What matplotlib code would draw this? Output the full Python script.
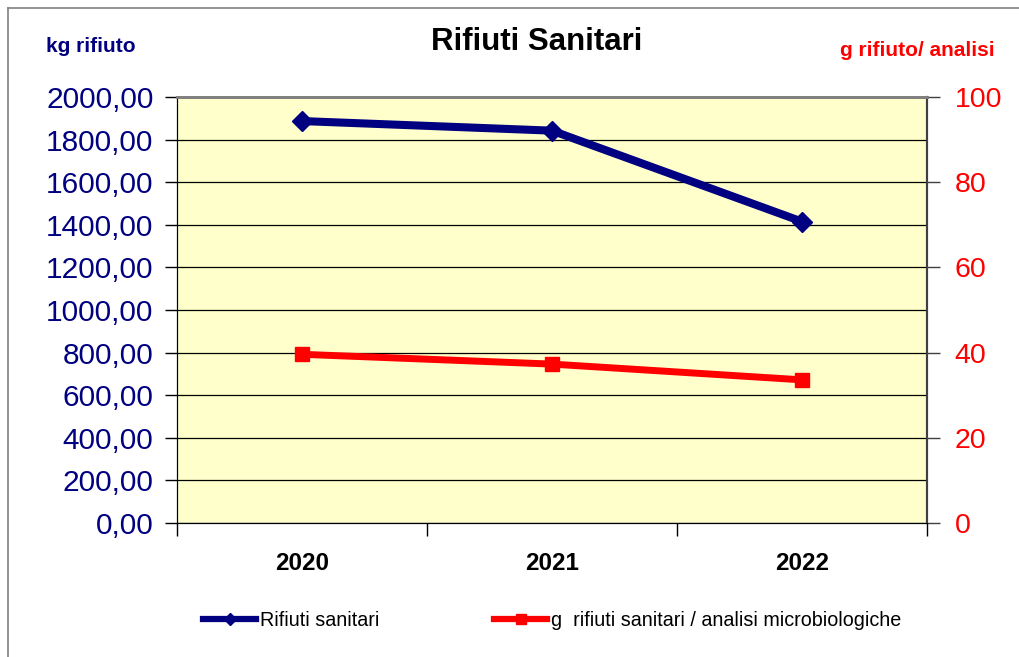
import matplotlib.pyplot as plt
from matplotlib.lines import Line2D

plt.rcParams['font.family'] = ['Liberation Sans', 'DejaVu Sans']

years = ['2020', '2021', '2022']
rifiuti_kg = [1887, 1842, 1415]
g_per_analisi = [39.6, 37.3, 33.6]
left_ticks = [0, 200, 400, 600, 800, 1000, 1200, 1400, 1600, 1800, 2000]
left_labels = ['%d,00' % v for v in left_ticks]
right_ticks = [0, 20, 40, 60, 80, 100]

navy = '#000080'
red = '#FF0000'

W, H = 1020, 657
fig = plt.figure(figsize=(W / 100, H / 100), dpi=100)
ax = fig.add_axes([177 / W, 1 - 523 / H, 750 / W, 426 / H])
ax.set_facecolor('#FFFFCC')

x = range(len(years))
ax.plot(x, rifiuti_kg, color=navy, lw=5.8, marker='D', ms=10.5, zorder=3)
ax.set_xlim(-0.5, 2.5)
ax.set_ylim(0, 2000)
ax.set_yticks(left_ticks)
ax.set_yticklabels(left_labels)
ax.tick_params(axis='y', colors=navy, labelsize=21.5, length=9, width=1,
               direction='out', pad=8)
ax.tick_params(axis='y', color='black')
ax.yaxis.grid(True, color='black', lw=0.9)
ax.set_axisbelow(True)

# category labels between boundary ticks
ax.set_xticks([-0.5, 0.5, 1.5, 2.5])
ax.set_xticklabels([])
ax.set_xticks(list(x), minor=True)
ax.set_xticklabels(years, minor=True, fontsize=17.5, fontweight='bold')
ax.tick_params(axis='x', which='major', length=9, width=1, color='black')
ax.tick_params(axis='x', which='minor', length=0, pad=21)

ax2 = ax.twinx()
ax2.plot(x, g_per_analisi, color=red, lw=5, marker='s', ms=9.5, zorder=3)
ax2.set_ylim(0, 100)
ax2.set_yticks(right_ticks)
ax2.tick_params(axis='y', labelcolor=red, labelsize=20.5, length=9, width=1,
                color='#404040', pad=11)

for a in (ax, ax2):
    a.spines['top'].set_color('#808080')
    a.spines['top'].set_linewidth(2)
    a.spines['right'].set_color('#404040')
    a.spines['right'].set_linewidth(1.5)
    a.spines['left'].set_color('black')
    a.spines['bottom'].set_color('black')

fig.text(537 / W, 1 - 42 / H, 'Rifiuti Sanitari', ha='center', va='center',
         fontsize=22.5, fontweight='bold')
fig.text(46 / W, 1 - 47 / H, 'kg rifiuto', ha='left', va='center',
         fontsize=15, fontweight='bold', color=navy)
fig.text(995 / W, 1 - 51 / H, 'g rifiuto/ analisi', ha='right', va='center',
         fontsize=15, fontweight='bold', color=red)

handles = [
    Line2D([], [], color=navy, lw=4.5, marker='D', ms=6),
    Line2D([], [], color=red, lw=4.5, marker='s', ms=7),
]
fig.legend(handles, ['Rifiuti sanitari', 'g  rifiuti sanitari / analisi microbiologiche'],
           loc='center left', bbox_to_anchor=(203 / W, 1 - 620 / H), ncol=2,
           frameon=False, fontsize=14.2, handlelength=2.7, handletextpad=0.2,
           columnspacing=5.8, borderpad=0, borderaxespad=0)

# outer chart frame
fig.add_artist(Line2D([8.5 / W, 8.5 / W], [0, 1 - 7.5 / H], color='#808080',
                      lw=1.2, transform=fig.transFigure))
fig.add_artist(Line2D([8.5 / W, 1], [1 - 7.5 / H, 1 - 7.5 / H], color='#808080',
                      lw=1.2, transform=fig.transFigure))

fig.savefig('out.png', dpi=100)
